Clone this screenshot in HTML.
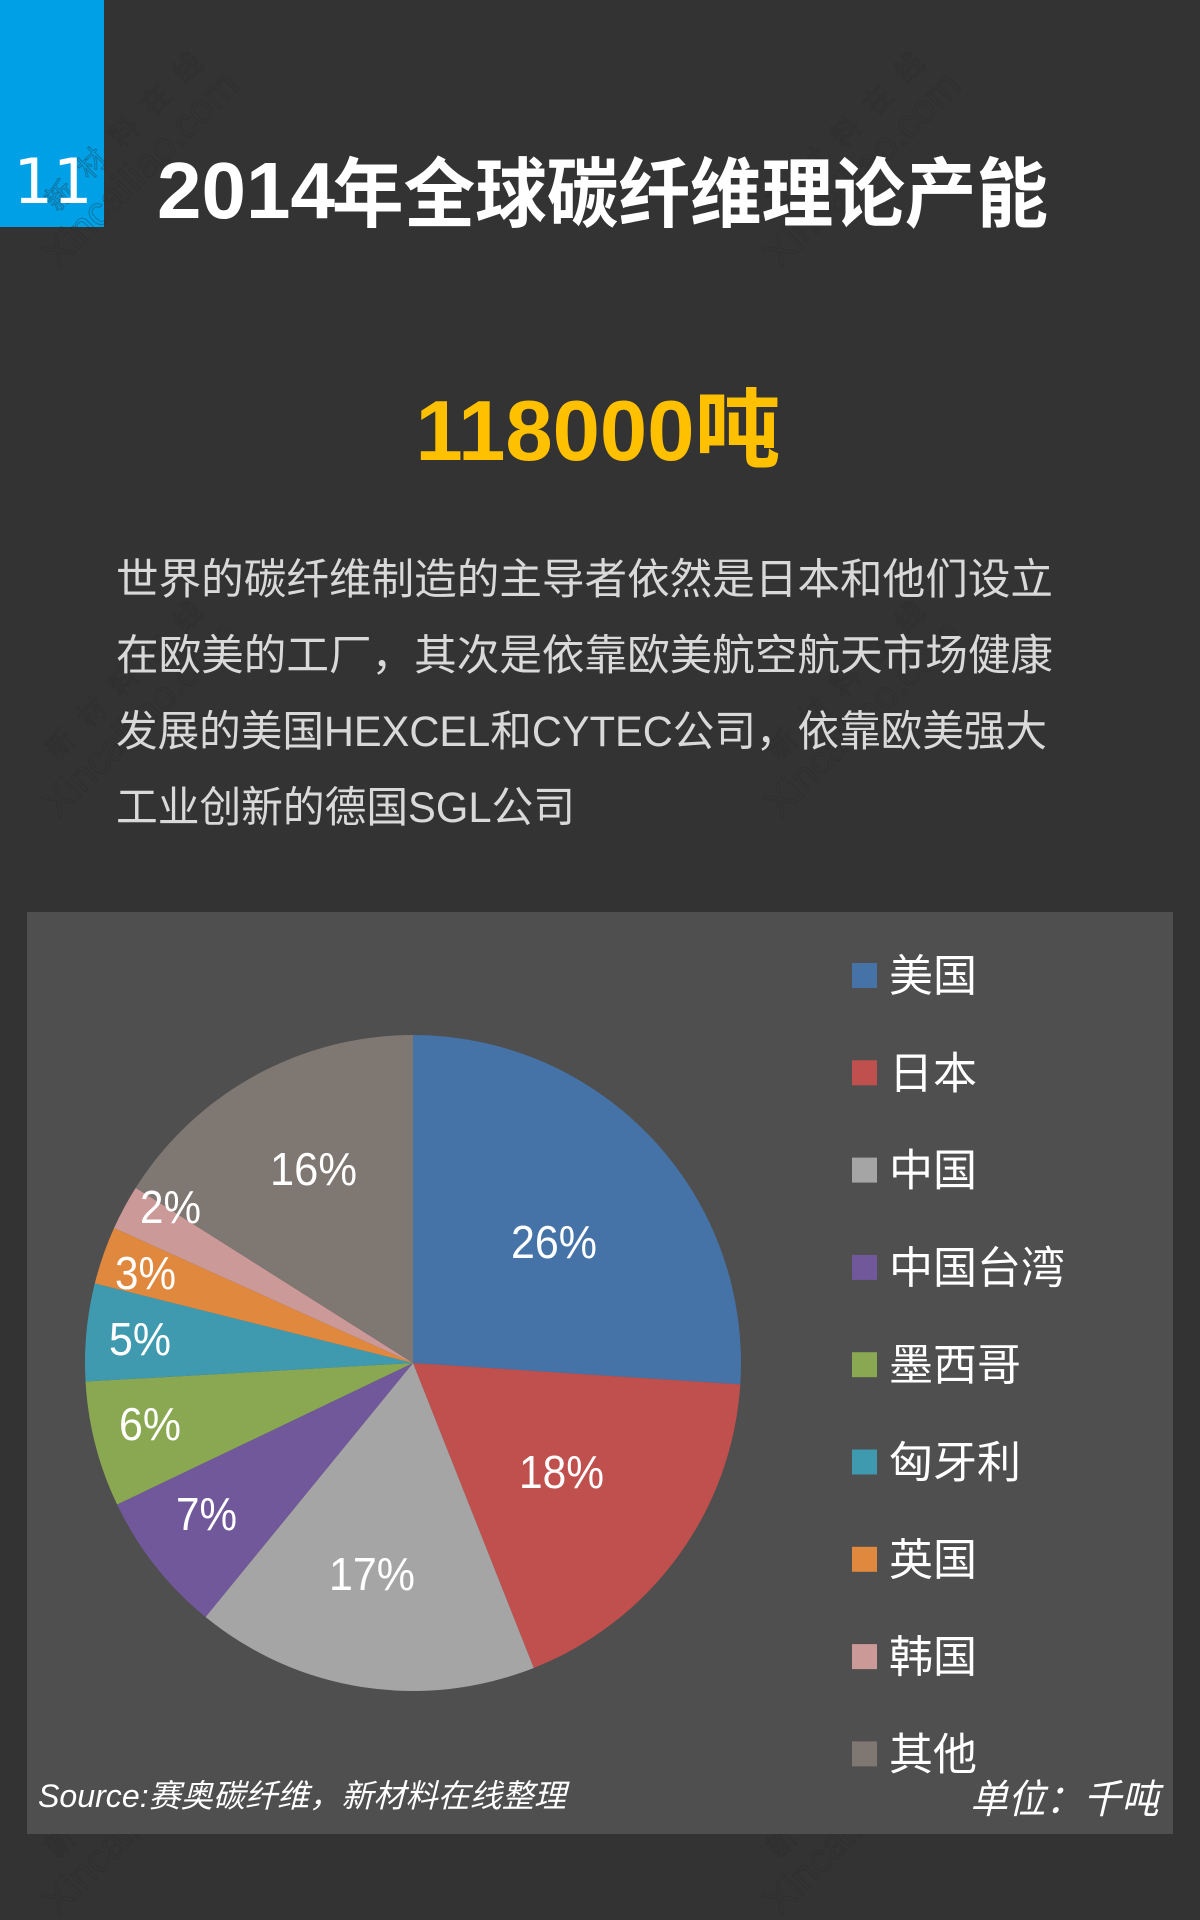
<!DOCTYPE html>
<html>
<head>
<meta charset="utf-8">
<style>
html,body{margin:0;padding:0;}
body{width:1200px;height:1920px;background:#333333;overflow:hidden;}
svg{display:block;}
</style>
</head>
<body>
<svg width="1200" height="1920" viewBox="0 0 1200 1920" xmlns="http://www.w3.org/2000/svg">
  <rect x="0" y="0" width="1200" height="1920" fill="#333333"/>
  <!-- number box -->
  <rect x="0" y="0" width="104" height="227" fill="#00a0e6"/>

  <!-- watermarks (very faint) -->
  <g fill="none" stroke="#2a2a2a" stroke-width="0.8" opacity="0.45" font-family="Liberation Sans, Noto Sans CJK SC, sans-serif">
    <g transform="translate(57,212) rotate(-45)"><text x="0" y="0" font-size="28" letter-spacing="17">新材料在线</text><text x="-40" y="42" font-size="40">Xincailiao.com</text></g>
    <g transform="translate(779,212) rotate(-45)"><text x="0" y="0" font-size="28" letter-spacing="17">新材料在线</text><text x="-40" y="42" font-size="40">Xincailiao.com</text></g>
    <g transform="translate(57,761) rotate(-45)"><text x="0" y="0" font-size="28" letter-spacing="17">新材料在线</text><text x="-40" y="42" font-size="40">Xincailiao.com</text></g>
    <g transform="translate(779,761) rotate(-45)"><text x="0" y="0" font-size="28" letter-spacing="17">新材料在线</text><text x="-40" y="42" font-size="40">Xincailiao.com</text></g>
    <g transform="translate(57,1859) rotate(-45)"><text x="0" y="0" font-size="28" letter-spacing="17">新材料在线</text><text x="-40" y="42" font-size="40">Xincailiao.com</text></g>
    <g transform="translate(779,1859) rotate(-45)"><text x="0" y="0" font-size="28" letter-spacing="17">新材料在线</text><text x="-40" y="42" font-size="40">Xincailiao.com</text></g>
  </g>

  <!-- "11" -->
  <text x="53" y="203" text-anchor="middle" font-family="DejaVu Sans, Liberation Sans, sans-serif" font-size="62" fill="#ffffff">11</text>

  <!-- title -->
  <text x="157" y="218" font-family="Liberation Sans, sans-serif" font-weight="bold" font-size="80" fill="#ffffff">2014</text>
  <text x="332" y="221" font-family="Noto Sans CJK SC, sans-serif" font-weight="bold" font-size="76" fill="#ffffff" textLength="716" lengthAdjust="spacingAndGlyphs">年全球碳纤维理论产能</text>

  <!-- big number -->
  <text x="598" y="460" text-anchor="middle" font-weight="bold" fill="#ffc000"><tspan font-family="Liberation Sans, sans-serif" font-size="85">118000</tspan><tspan font-family="Noto Sans CJK SC, sans-serif" font-size="86">吨</tspan></text>

  <!-- paragraph -->
  <g font-family="Liberation Sans, Noto Sans CJK SC, sans-serif" font-size="42.7" fill="#d9d9d9">
    <text x="116" y="594" textLength="937" lengthAdjust="spacingAndGlyphs">世界的碳纤维制造的主导者依然是日本和他们设立</text>
    <text x="116" y="670" textLength="937" lengthAdjust="spacingAndGlyphs">在欧美的工厂，其次是依靠欧美航空航天市场健康</text>
    <text x="116" y="746" textLength="931" lengthAdjust="spacingAndGlyphs">发展的美国HEXCEL和CYTEC公司，依靠欧美强大</text>
    <text x="116" y="822" textLength="459" lengthAdjust="spacingAndGlyphs">工业创新的德国SGL公司</text>
  </g>

  <!-- chart box -->
  <rect x="27" y="912" width="1146" height="922" fill="#4f4f4f"/>

  <!-- pie -->
  <path d="M413,1363 L413,1035 A328,328 0 0 1 740.30,1384.42 Z" fill="#4673a7"/>
  <path d="M413,1363 L740.30,1384.42 A328,328 0 0 1 533.74,1667.97 Z" fill="#c0504d"/>
  <path d="M413,1363 L533.74,1667.97 A328,328 0 0 1 205.52,1617.04 Z" fill="#a5a5a5"/>
  <path d="M413,1363 L205.52,1617.04 A328,328 0 0 1 117.08,1504.52 Z" fill="#71589b"/>
  <path d="M413,1363 L117.08,1504.52 A328,328 0 0 1 85.52,1381.54 Z" fill="#8aa752"/>
  <path d="M413,1363 L85.52,1381.54 A328,328 0 0 1 94.80,1283.42 Z" fill="#3f9aaf"/>
  <path d="M413,1363 L94.80,1283.42 A328,328 0 0 1 114.06,1228.02 Z" fill="#e0883e"/>
  <path d="M413,1363 L114.06,1228.02 A328,328 0 0 1 135.69,1187.83 Z" fill="#cc9999"/>
  <path d="M413,1363 L135.69,1187.83 A328,328 0 0 1 413,1035 Z" fill="#7f7772"/>

  <!-- pie labels -->
  <g font-family="Liberation Sans, sans-serif" font-size="46" fill="#ffffff" text-anchor="middle">
    <text x="554" y="1258" textLength="86" lengthAdjust="spacingAndGlyphs">26%</text>
    <text x="561.5" y="1488" textLength="85" lengthAdjust="spacingAndGlyphs">18%</text>
    <text x="372" y="1590" textLength="86" lengthAdjust="spacingAndGlyphs">17%</text>
    <text x="206.5" y="1530" textLength="61" lengthAdjust="spacingAndGlyphs">7%</text>
    <text x="150" y="1440" textLength="62" lengthAdjust="spacingAndGlyphs">6%</text>
    <text x="140" y="1355" textLength="62" lengthAdjust="spacingAndGlyphs">5%</text>
    <text x="145.5" y="1289" textLength="61" lengthAdjust="spacingAndGlyphs">3%</text>
    <text x="170.5" y="1223" textLength="61" lengthAdjust="spacingAndGlyphs">2%</text>
    <text x="313.5" y="1185" textLength="87" lengthAdjust="spacingAndGlyphs">16%</text>
  </g>

  <!-- legend -->
  <rect x="852" y="963" width="25" height="25" fill="#4673a7"/>
  <rect x="852" y="1060.3" width="25" height="25" fill="#c0504d"/>
  <rect x="852" y="1157.6" width="25" height="25" fill="#a5a5a5"/>
  <rect x="852" y="1254.9" width="25" height="25" fill="#71589b"/>
  <rect x="852" y="1352.2" width="25" height="25" fill="#8aa752"/>
  <rect x="852" y="1449.5" width="25" height="25" fill="#3f9aaf"/>
  <rect x="852" y="1546.8" width="25" height="25" fill="#e0883e"/>
  <rect x="852" y="1644.1" width="25" height="25" fill="#cc9999"/>
  <rect x="852" y="1741.4" width="25" height="25" fill="#7f7772"/>
  <g font-family="Liberation Sans, Noto Sans CJK SC, sans-serif" font-size="44" fill="#ffffff">
    <text x="889" y="991">美国</text>
    <text x="889" y="1088.3">日本</text>
    <text x="889" y="1185.6">中国</text>
    <text x="889" y="1282.9">中国台湾</text>
    <text x="889" y="1380.2">墨西哥</text>
    <text x="889" y="1477.5">匈牙利</text>
    <text x="889" y="1574.8">英国</text>
    <text x="889" y="1672.1">韩国</text>
    <text x="889" y="1769.4">其他</text>
  </g>

  <!-- source & unit -->
  <text x="38" y="1807" font-family="Liberation Sans, Noto Sans CJK SC, sans-serif" font-style="italic" font-size="32" fill="#ffffff" textLength="528" lengthAdjust="spacingAndGlyphs">Source:赛奥碳纤维，新材料在线整理</text>
  <text x="970" y="1813" font-family="Liberation Sans, Noto Sans CJK SC, sans-serif" font-style="italic" font-size="40" fill="#ffffff" textLength="189" lengthAdjust="spacingAndGlyphs">单位：千吨</text>
</svg>
</body>
</html>
